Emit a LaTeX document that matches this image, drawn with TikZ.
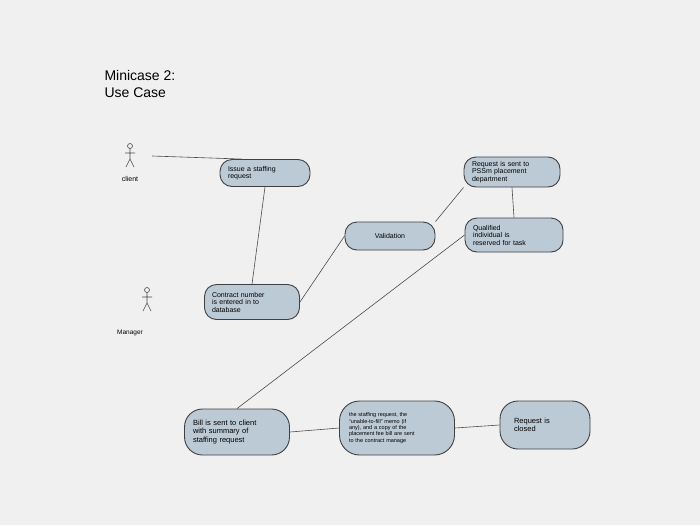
\documentclass[tikz,border=0pt]{standalone}
\usepackage{fontspec}
\setmainfont{Liberation Sans}
\begin{document}
\begin{tikzpicture}[x=1pt,y=-1pt,
 uc/.style={draw=black!75,line width=0.9pt,fill=uccol,rounded corners=12pt,align=left,font=\fontsize{7}{7.5}\selectfont,inner sep=2pt},
 conn/.style={draw=black!70,line width=0.6pt},
 actor/.style={draw=black!70,line width=0.6pt}]
\definecolor{uccol}{HTML}{BCCAD6}
\fill[black!6] (0,0) rectangle (700,525);
\useasboundingbox (0,0) rectangle (700,525);
\node[anchor=north west,align=left,font=\fontsize{14}{17}\selectfont] (title) at (101,67) {Minicase 2:\\Use Case};
% actors
\foreach \n/\x/\y in {c/130/146,m/147/290}{
 \draw[actor] (\x,\y) circle (2.5);
 \draw[actor] (\x,\y+2.5) -- (\x,\y+13) (\x-5,\y+7) -- (\x+5,\y+7) (\x,\y+13) -- (\x-4,\y+21) (\x,\y+13) -- (\x+4,\y+21);
}
\coordinate (cl) at (152,156);
\node[font=\fontsize{7}{8}\selectfont] (clientlbl) at (130,179) {client};
\node[font=\fontsize{6.5}{8}\selectfont] (mgrlbl) at (130,333) {Manager};
\node[uc,minimum width=90pt,minimum height=27pt,text width=74pt] (issue) at (265,173) {Issue a staffing\\request};
\node[uc,minimum width=96pt,minimum height=30pt,text width=80pt] (sent) at (512,172) {Request is sent to\\PSSm placement\\department};
\node[uc,minimum width=90pt,minimum height=28pt,text width=70pt,align=center] (valid) at (390,236) {Validation};
\node[uc,minimum width=98pt,minimum height=34pt,text width=82pt] (qual) at (514,235) {Qualified\\individual is\\reserved for task};
\node[uc,minimum width=95pt,minimum height=35pt,text width=80pt] (contract) at (252,302) {Contract number\\is entered in to\\database};
\node[uc,minimum width=105pt,minimum height=46pt,text width=88pt,rounded corners=18pt,font=\fontsize{7.5}{8.5}\selectfont] (bill) at (237,432) {Bill is sent to client\\with summary of\\staffing request};
\node[uc,minimum width=115pt,minimum height=54pt,text width=96pt,rounded corners=20pt,font=\fontsize{5.5}{6.3}\selectfont] (memo) at (397,428) {the staffing request, the\\``unable-to-fill'' memo (if\\any), and a copy of the\\placement fee bill are sent\\to the contract manage};
\node[uc,minimum width=90pt,minimum height=48pt,text width=62pt,rounded corners=18pt,font=\fontsize{7.5}{8.5}\selectfont] (closed) at (545,425) {Request is\\closed};
\coordinate (issuetop) at ([xshift=22pt]issue.north west);
\draw[conn] (cl) -- (issuetop);
\draw[conn] (issue.south) -- (contract.north);
\draw[conn] (contract.east) -- (valid.west);
\draw[conn] (valid.north east) -- (sent.south west);
\draw[conn] (sent.south) -- (qual.north);
\draw[conn] (qual.west) -- (bill.north);
\draw[conn] (bill.east) -- (memo.west);
\draw[conn] (memo.east) -- (closed.west);
\end{tikzpicture}
\end{document}
